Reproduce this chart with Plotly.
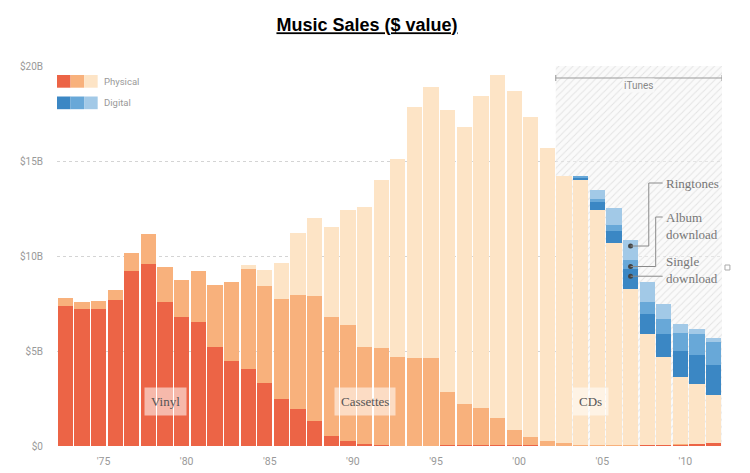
import plotly.graph_objects as go

# values in $ billions
years = list(range(1973, 2013))
vinyl = [7.38, 7.19, 7.19, 7.68, 9.19, 9.60, 7.60, 6.79, 6.53, 5.23,
         4.46, 4.05, 3.30, 2.47, 1.95, 1.32, 0.54, 0.26, 0.10, 0.05,
         0.02, 0.02, 0.02, 0.04, 0.03, 0.03, 0.03, 0.03, 0.03, 0.02,
         0.02, 0.02, 0.01, 0.02, 0.02, 0.06, 0.06, 0.09, 0.12, 0.16]
cassettes = [0.39, 0.39, 0.43, 0.53, 0.95, 1.56, 1.84, 1.95, 2.66, 3.27,
             4.17, 5.27, 5.14, 5.27, 6.00, 6.59, 6.23, 6.11, 5.09, 5.11,
             4.65, 4.61, 4.61, 2.78, 2.16, 1.99, 1.44, 0.79, 0.43, 0.24,
             0.12, 0.04, 0.02, 0.01, 0.01, 0.01, 0.01, 0.01, 0.01, 0.01]
cds = [0, 0, 0, 0, 0, 0, 0, 0, 0, 0,
       0, 0.21, 0.82, 1.91, 3.24, 4.07, 4.77, 6.05, 7.41, 8.84,
       10.45, 13.23, 14.28, 14.86, 14.61, 16.40, 18.04, 17.88, 16.87, 15.44,
       14.06, 13.94, 12.39, 10.64, 8.23, 5.81, 4.60, 3.51, 3.12, 2.50]

digital_years = [2004, 2005, 2006, 2007, 2008, 2009, 2010, 2011, 2012]
single_dl = [0.14, 0.44, 0.67, 1.04, 1.05, 1.21, 1.39, 1.54, 1.60]
album_dl = [0.05, 0.12, 0.30, 0.49, 0.67, 0.81, 0.93, 1.09, 1.23]
ringtones = [0.00, 0.49, 0.89, 1.05, 1.05, 0.77, 0.47, 0.30, 0.16]

itunes_years = [2003, 2012]
tick_years = [1975, 1980, 1985, 1990, 1995, 2000, 2005, 2010]
tick_labels = ["'75", "'80", "'85", "'90", "'95", "'00", "'05", "'10"]
y_ticks = [0, 5, 10, 15, 20]
y_labels = ["$0", "$5B", "$10B", "$15B", "$20B"]
format_labels = [("Vinyl", 1979.0), ("Cassettes", 1991.0), ("CDs", 2004.6)]

red, orange, peach = "#EC6446", "#F8B17C", "#FDE4C6"
dblue, mblue, lblue = "#3B87C4", "#68A8D8", "#A2C9E7"
grey = "#999999"
serif = "Liberation Serif"

W, H = 750, 473
OFF = 8  # page margin of the browser
# plot area as seen on screen
PL, PR, PT, PB = 50, 722, 66, 446


def px(x):
    return (x - PL) / (PR - PL)


def py(y):
    return (PB - y) / (PB - PT)


xr = [years[0] - 0.5, years[-1] + 0.5]
yr = [0, 20]


def xd(p):
    return xr[0] + px(p) * (xr[1] - xr[0])


def yd(p):
    return yr[0] + py(p) * (yr[1] - yr[0])


fig = go.Figure()

# iTunes hatched band on the base axes (drawn under the bars)
x0, x1 = itunes_years[0] - 0.5, itunes_years[1] + 0.5
fig.add_trace(go.Scatter(
    x=[x0, x1, x1, x0, x0], y=[0, 0, yr[1], yr[1], 0],
    fill="toself", mode="none", fillcolor="rgba(240,240,240,0.5)",
    fillpattern=dict(shape="/", fgcolor="#cccccc", bgcolor="rgba(246,246,246,0.5)",
                     size=5, solidity=0.2),
    hoverinfo="skip", showlegend=False,
))

for name, vals, col in [("Vinyl", vinyl, red), ("Cassettes", cassettes, orange), ("CDs", cds, peach)]:
    fig.add_trace(go.Bar(x=years, y=vals, name=name, marker=dict(color=col, line_width=0),
                         xaxis="x2", yaxis="y2", showlegend=False))
for name, vals, col in [("Single download", single_dl, dblue), ("Album download", album_dl, mblue),
                        ("Ringtones", ringtones, lblue)]:
    fig.add_trace(go.Bar(x=digital_years, y=vals, name=name, marker=dict(color=col, line_width=0),
                         xaxis="x2", yaxis="y2", showlegend=False))

# dots on the 2007 bar, inside each digital layer
i = digital_years.index(2007)
j = years.index(2007)
base = vinyl[j] + cassettes[j] + cds[j]
dot_single = base + single_dl[i] * 0.65
dot_album = base + single_dl[i] + album_dl[i] * 0.3
dot_ring = base + single_dl[i] + album_dl[i] + ringtones[i] * 0.7
fig.add_trace(go.Scatter(
    x=[2007] * 3, y=[dot_ring, dot_album, dot_single], mode="markers",
    marker=dict(color="#444444", size=5), xaxis="x2", yaxis="y2",
    hoverinfo="skip", showlegend=False,
))

shapes = []
annotations = []

# leader lines
lc = dict(color="#8a8a8a", width=1)
tx = xd(662)
for ydot, xbend, ytxt in [(dot_ring, xd(648), yd(183)), (dot_album, xd(655), yd(217))]:
    shapes.append(dict(type="path", xref="x", yref="y", line=lc,
                       path=f"M {2007} {ydot} L {xbend} {ydot} L {xbend} {ytxt} L {tx} {ytxt}"))
shapes.append(dict(type="line", xref="x", yref="y", x0=2007, x1=tx, y0=dot_single, y1=dot_single, line=lc))

for text, ypix in [("Ringtones", 183), ("Album<br>download", 225.5),
                   ("Single<br>download", 269.5)]:
    annotations.append(dict(x=xd(663), y=yd(ypix), text=text, xanchor="left", yanchor="middle",
                            align="left", xref="x", yref="y", showarrow=False,
                            font=dict(family=serif, size=13, color="#777777")))

# format labels
for text, xv in format_labels:
    annotations.append(dict(x=xv, y=yd(401), xref="x", yref="y", text=text, showarrow=False,
                            bgcolor="rgba(255,255,255,0.55)", borderpad=6,
                            font=dict(family=serif, size=13, color="#555555")))

# iTunes bracket
yb = py(78)
shapes.append(dict(type="line", xref="x", yref="paper", x0=x0, x1=x1, y0=yb, y1=yb,
                   line=dict(color="#999999", width=1)))
for xe in (x0, x1):
    shapes.append(dict(type="line", xref="x", yref="paper", x0=xe, x1=xe,
                       y0=yb - 0.008, y1=yb + 0.008, line=dict(color="#999999", width=1)))
annotations.append(dict(x=(x0 + x1) / 2, y=yb, xref="x", yref="paper", text="iTunes",
                        showarrow=False, bgcolor="#f8f8f8", borderpad=1,
                        font=dict(family="Roboto", size=10, color="#888888")))

# custom legend
sw = 13.7
for label, cols, ytop in [("Physical", [red, orange, peach], 75),
                          ("Digital", [dblue, mblue, lblue], 96.5)]:
    for k, c in enumerate(cols):
        shapes.append(dict(type="rect", xref="paper", yref="paper",
                           x0=px(50 + k * sw), x1=px(50 + (k + 1) * sw),
                           y0=py(ytop + 12.7), y1=py(ytop), fillcolor=c, line_width=0))
    annotations.append(dict(x=px(95), y=py(ytop + 6.5), xref="paper", yref="paper", text=label,
                            xanchor="left", yanchor="middle", showarrow=False,
                            font=dict(family="Roboto", size=9.5, color=grey)))

# stray little box at the right edge of the reference
shapes.append(dict(type="rect", xref="paper", yref="paper", x0=px(725), x1=px(730),
                   y0=py(270), y1=py(265), line=dict(color="#aaaaaa", width=1)))

fig.update_layout(
    width=W, height=H,
    margin=dict(l=PL - OFF, r=W - (PR - OFF), t=PT - OFF, b=H - (PB - OFF)),
    paper_bgcolor="white", plot_bgcolor="white",
    barmode="stack", bargap=0.08,
    title=dict(text="<b><u>Music Sales ($ value)</u></b>", x=(367 - OFF) / W, xref="container",
               y=1 - (25 - OFF) / H, yref="container", xanchor="center", yanchor="middle",
               font=dict(family="Liberation Sans", size=18, color="black")),
    xaxis=dict(range=xr, tickvals=[t + 0.3 for t in tick_years], ticktext=tick_labels,
               showgrid=False, zeroline=False, showline=False, ticks="", ticklabelstandoff=7,
               tickfont=dict(family="Roboto", size=10.5, color=grey)),
    yaxis=dict(range=yr, tickvals=y_ticks, ticktext=y_labels, showgrid=True,
               gridcolor="#d4d4d4", griddash="dot", gridwidth=1, zeroline=False,
               ticks="", ticklabelstandoff=13,
               tickfont=dict(family="Roboto", size=10, color=grey)),
    xaxis2=dict(range=xr, overlaying="x", visible=False),
    yaxis2=dict(range=yr, overlaying="y", visible=False),
    shapes=shapes,
    annotations=annotations,
)

fig.write_html("out.html")
